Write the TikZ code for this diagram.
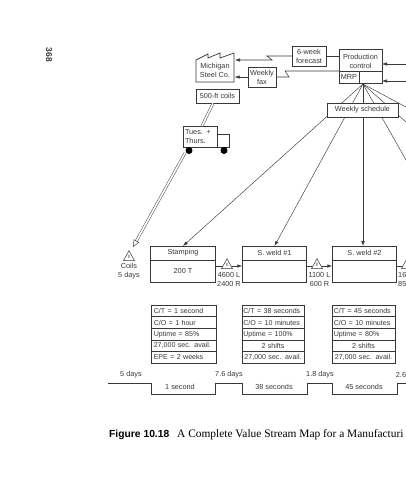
\documentclass[tikz,border=0pt]{standalone}
\usepackage{fontspec}
\setmainfont{Liberation Sans}
\newfontfamily\capserif{Liberation Serif}
\usetikzlibrary{arrows.meta,shapes.geometric}
\definecolor{ink}{gray}{0.22}
\tikzset{
  small/.style={font=\fontsize{7.3}{8.8}\selectfont,text=ink},
  box/.style={draw=ink,line width=0.7pt,fill=white,small,inner sep=0pt,outer sep=0pt,align=center},
  datarow/.style={box,font=\fontsize{7.1}{8.8}\selectfont,minimum height=11.6pt,text width=59.5pt},
  infoline/.style={draw=ink,line width=0.55pt,-{Latex[length=5pt,width=3.5pt]}},
  fanline/.style={draw=ink,line width=0.45pt},
  stock/.style={isosceles triangle,isosceles triangle stretches,shape border rotate=90,draw=ink,line width=0.5pt,fill=white,inner sep=0pt,minimum height=10pt,minimum width=11pt,anchor=apex,font=\fontsize{5}{5}\selectfont\bfseries,text=ink},
  haul/.style={draw=ink,line width=0.45pt,double=white,double distance=1.7pt}
}
\begin{document}
\begin{tikzpicture}[x=1pt,y=-1pt]
    \useasboundingbox (0,0) rectangle (406,480);
    \node[rotate=-90,font=\fontsize{8.5}{9}\selectfont\bfseries,text=ink] (pageno) at (49,55) {368};
    % top row
    \draw[draw=ink,line width=0.7pt,fill=white] (196,60) -- (208,54) -- (208,58) -- (220,53) -- (220,58) -- (234,53) -- (234,82) -- (196,82) -- cycle;
    \node[small,align=center] (mill) at (215,70) {Michigan\\Steel Co.};
    \node[box,minimum width=34pt,minimum height=20pt] (forecast) at (309,56) {6-week\\forecast};
    \node[box,minimum width=43pt,minimum height=34pt,text depth=10pt] (control) at (360.5,66) {Production\\control};
    \draw[draw=ink,line width=0.7pt] (control.west |- 0,71) -- (control.east |- 0,71);
    \node[box,minimum width=20pt,minimum height=12pt] (mrp) at (349,77) {MRP};
    \node[box,minimum width=28pt,minimum height=20pt] (fax) at (262,77) {Weekly\\fax};
    \node[box,minimum width=43pt,minimum height=14pt] (coils) at (217.5,96) {500-ft coils};
    \draw[infoline] (forecast.west) -- (267,56) -- (272,60) -- (235,60);
    \draw[draw=ink,line width=0.55pt] (forecast.east) -- (control.west |- forecast.east);
    \draw[draw=ink,line width=0.55pt] (mrp.north west) -- (285,71) -- (289,77) -- (fax.east);
    \draw[infoline] (fax.west) -- (234.5,77);
    \coordinate (custA) at (406,64);
    \coordinate (custB) at (406,81);
    \draw[infoline] (custA) -- (control.east |- custA);
    \draw[infoline] (custB) -- (control.east |- custB);
    % truck
    \node[box,minimum width=12pt,minimum height=13pt] (cab) at (223,140.5) {};
    \node[box,minimum width=34pt,minimum height=21pt,text width=30pt,align=left] (truck) at (200,136.5) {Tues. +\\Thurs.};
    \node[circle,fill=black,inner sep=0pt,minimum size=7pt] (wheelA) at (189,150.5) {};
    \node[circle,fill=black,inner sep=0pt,minimum size=7pt] (wheelB) at (224,150.5) {};
    \draw[haul] (213,103.5) -- (202,126);
    % processes
    \foreach \n/\x/\t/\b in {stamp/183/Stamping/200 T,weldA/274.5/S. weld \#1/,weldB/364.5/S. weld \#2/} {
      \node[box,minimum width=64.5pt,minimum height=14pt] (\n H) at (\x,253) {\t};
      \node[box,minimum width=64.5pt,minimum height=22pt] (\n B) at (\x,271) {\b};
    }
    % schedule fan
    \coordinate (apex) at (363,84);
    \coordinate (outA) at (406,160);
    \coordinate (outB) at (406,122);
    \coordinate (outC) at (406,107);
    \draw[fanline,-{Latex[length=5pt,width=3.5pt]}] (apex) -- (stampH.north);
    \draw[fanline,-{Latex[length=5pt,width=3.5pt]}] (apex) -- (weldAH.north);
    \draw[fanline,-{Latex[length=5pt,width=3.5pt]}] (apex) -- (apex |- weldBH.north);
    \foreach \e in {outA,outB,outC} {
      \draw[fanline] (apex) -- (\e);
    }
    \node[box,minimum width=71pt,minimum height=14pt] (schedule) at (362.5,110) {Weekly schedule};
    % stock
    \node[stock] (stockA) at (129,250) {I};
    \node[small,align=center,inner sep=0pt] (stockAt) at (129,271) {Coils\\5 days};
    \draw[haul,-{Triangle[open,length=7pt,width=6pt]}] (185,153) -- (133,247);
    \draw[infoline] ([yshift=5pt]stampB.east) -- ([yshift=5pt]weldAB.west);
    \draw[infoline] ([yshift=5pt]weldAB.east) -- ([yshift=5pt]weldBB.west);
    \draw[draw=ink,line width=0.55pt] ([yshift=5pt]weldBB.east) -- ++(10,0);
    \node[stock] (stockB) at (227,258) {I};
    \node[stock] (stockC) at (317,258) {I};
    \node[stock] (stockD) at (407,258) {};
    \node[small,align=center,inner sep=0pt] (stockBt) at (229,279.5) {4600 L\\2400 R};
    \node[small,align=center,inner sep=0pt] (stockCt) at (319.5,279.5) {1100 L\\600 R};
    \node[small,align=left,inner sep=0pt,anchor=west] (stockDt) at (398,279.5) {16\\85};
    % data boxes
    \foreach \n/\x/\w/\ct/\co/\up/\sa/\ta/\sb/\tb in {
      stamp/183.5/65/1 second/1 hour/85\%/left/{27,000 sec. avail.}/left/EPE = 2 weeks,
      weldA/273/62/38 seconds/10 minutes/100\%/center/2 shifts/center/{27,000 sec. avail.},
      weldB/363.5/63/45 seconds/10 minutes/80\%/center/2 shifts/center/{27,000 sec. avail.}} {
      \node[datarow,align=left,minimum width=\w pt] (\n Da) at (\x,311) {C/T = \ct};
      \node[datarow,align=left,minimum width=\w pt] (\n Db) at (\x,322.6) {C/O = \co};
      \node[datarow,align=left,minimum width=\w pt] (\n Dc) at (\x,334.2) {Uptime = \up};
      \node[datarow,align=\sa,minimum width=\w pt] (\n Dd) at (\x,345.8) {\ta};
      \node[datarow,align=\sb,minimum width=\w pt] (\n De) at (\x,357.4) {\tb};
    }
    % timeline
    \draw[draw=ink,line width=0.55pt] (108,383) -- (151,383) -- (151,394) -- (215,394) -- (215,383) -- (242,383) -- (242,394) -- (307,394) -- (307,383) -- (332,383) -- (332,394) -- (397,394) -- (397,383) -- (406,383);
    \foreach \n/\x/\t in {leadA/131/5 days,leadB/229/7.6 days,leadC/320/1.8 days,leadD/401/2.6} {
      \node[small,inner sep=0pt] (\n) at (\x,375) {\t};
    }
    \foreach \n/\x/\t in {taktA/180/1 second,taktB/274/38 seconds,taktC/364/45 seconds} {
      \node[small,inner sep=0pt] (\n) at (\x,386.5) {\t};
    }
    % caption
    \node[anchor=base west,inner sep=0pt,font=\fontsize{10.3}{11}\selectfont\bfseries] (figno) at (109,437) {Figure 10.18};
    \node[anchor=base west,inner sep=0pt,font=\capserif\fontsize{11.4}{12}\selectfont] (figcap) at (177,437) {A Complete Value Stream Map for a Manufacturi};
  \end{tikzpicture}
\end{document}
